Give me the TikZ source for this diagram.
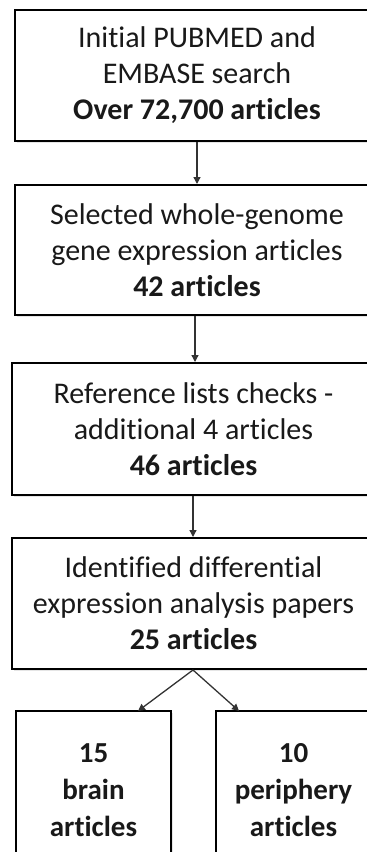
\documentclass[tikz,border=0pt]{standalone}
\usepackage{fontspec}
\setmainfont{Carlito}[Ligatures=CommonOff]
\usetikzlibrary{arrows.meta,shadows}
\begin{document}
\begin{tikzpicture}[x=1pt,y=1pt,
  box/.style={draw=black, line width=2pt, fill=white, align=center, inner sep=0pt,
    font=\fontsize{30}{36}\selectfont, text=black!90,
    drop shadow={shadow xshift=2pt, shadow yshift=-2pt, opacity=0.25, fill=black!40}},
  arr/.style={draw=black!80, line width=1.3pt, -{Triangle[length=7pt,width=7pt]}}]
\useasboundingbox (0,0) rectangle (367,-852);
\begin{scope}
\clip (0,0) rectangle (367,-852);
\node[box, minimum width=364pt, minimum height=131pt] (b1) at (197,-75.5)
  {Initial PUBMED and\\EMBASE search\\\textbf{Over 72,700 articles}};
\node[box, minimum width=364pt, minimum height=130pt] (b2) at (197,-250)
  {Selected whole-genome\\gene expression articles\\\textbf{42 articles}};
\node[box, minimum width=363pt, minimum height=132pt] (b3) at (193.5,-429)
  {Reference lists checks -\\additional 4 articles\\\textbf{46 articles}};
\node[box, minimum width=363pt, minimum height=131pt] (b4) at (193.5,-603.5)
  {Identified differential\\expression analysis papers\\\textbf{25 articles}};
\node[box, minimum width=155pt, minimum height=159pt, font=\fontsize{29}{37}\selectfont] (b5) at (93.5,-790.5)
  {\textbf{15}\\\textbf{brain}\\\textbf{articles}};
\node[box, minimum width=155pt, minimum height=159pt, font=\fontsize{29}{37}\selectfont] (b6) at (293.5,-790.5)
  {\textbf{10}\\\textbf{periphery}\\\textbf{articles}};
\coordinate (t5) at (138,-711);
\coordinate (t6) at (239,-711);
\draw[arr] (b1.south -| 197,0) -- (b2.north -| 197,0);
\draw[arr] (b2.south -| 195,0) -- (b3.north -| 195,0);
\draw[arr] (b3.south -| 193,0) -- (b4.north -| 193,0);
\draw[arr] (b4.south -| 193,0) -- (t5);
\draw[arr] (b4.south -| 193,0) -- (t6);
\end{scope}
\end{tikzpicture}
\end{document}
